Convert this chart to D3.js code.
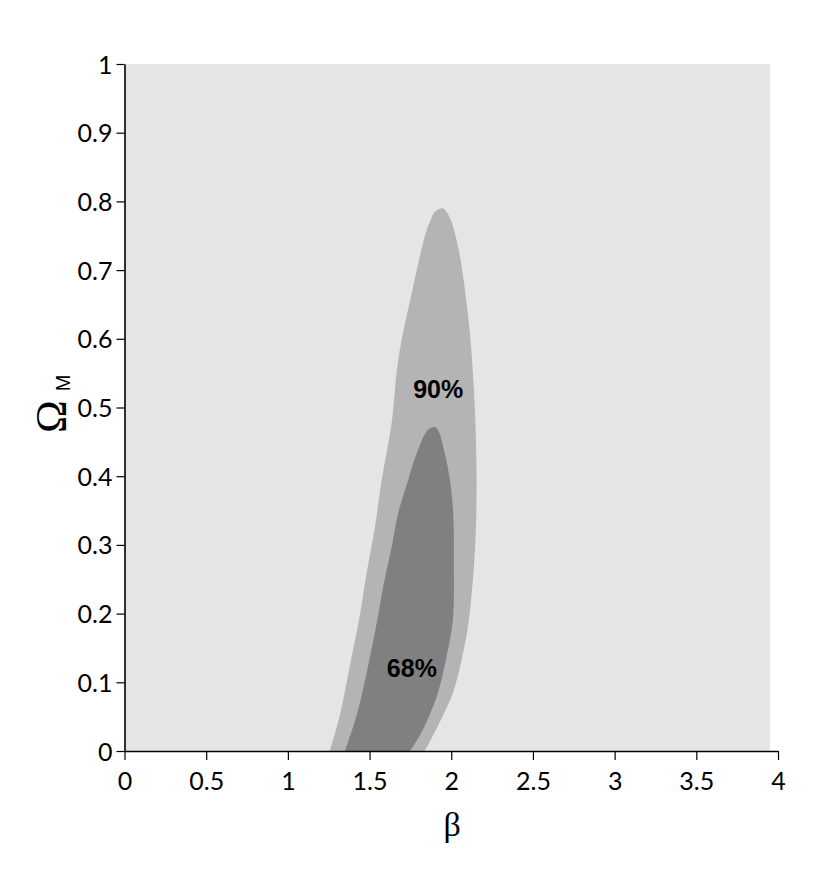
<!DOCTYPE html>
<html>
<head>
<meta charset="utf-8">
<script src="https://cdn.jsdelivr.net/npm/d3@7"></script>
<style>
  html, body { margin: 0; padding: 0; background: #ffffff; }
  svg { display: block; }
  .tick text { font-family: Lato, "DejaVu Sans", sans-serif; font-weight: 400; font-size: 25px; fill: #000; }
</style>
</head>
<body>
<svg id="chart" width="830" height="884"></svg>
<script>
// ---- data ----
const xTickValues = [0, 0.5, 1, 1.5, 2, 2.5, 3, 3.5, 4];
const xTickLabels = ["0", "0.5", "1", "1.5", "2", "2.5", "3", "3.5", "4"];
const yTickValues = [0, 0.1, 0.2, 0.3, 0.4, 0.5, 0.6, 0.7, 0.8, 0.9, 1];
const yTickLabels = ["0", "0.1", "0.2", "0.3", "0.4", "0.5", "0.6", "0.7", "0.8", "0.9", "1"];

// extent of the computed likelihood grid (shaded background)
const gridBeta = [0, 3.95];
const gridOmega = [0, 1];

// 90% confidence contour (beta, Omega_M), from bottom-left over the top to bottom-right
const c90Beta  = [1.257, 1.318, 1.380, 1.441, 1.482, 1.533, 1.574, 1.635, 1.665, 1.696, 1.767, 1.808, 1.849, 1.869, 1.900, 1.947,
                  1.971, 2.002, 2.042, 2.073, 2.094, 2.118, 2.144, 2.155, 2.146, 2.108, 2.070, 2.012, 1.950, 1.889, 1.838];
const c90Omega = [0.000, 0.052, 0.125, 0.198, 0.259, 0.326, 0.394, 0.477, 0.550, 0.598, 0.676, 0.720, 0.758, 0.770, 0.785, 0.790,
                  0.785, 0.770, 0.734, 0.690, 0.652, 0.598, 0.501, 0.394, 0.297, 0.191, 0.140, 0.086, 0.052, 0.023, 0.000];

// 68% confidence contour (beta, Omega_M)
const c68Beta  = [1.349, 1.421, 1.492, 1.553, 1.583, 1.635, 1.675, 1.736, 1.788, 1.859, 1.900,
                  1.920, 1.961, 1.992, 2.012, 2.016, 2.010, 1.981, 1.920, 1.859, 1.808, 1.747];
const c68Omega = [0.000, 0.052, 0.125, 0.198, 0.239, 0.297, 0.346, 0.394, 0.433, 0.468, 0.472,
                  0.467, 0.433, 0.394, 0.346, 0.273, 0.191, 0.149, 0.086, 0.048, 0.023, 0.000];

const labels = [
  { text: "90%", beta: 1.92, omega: 0.514 },
  { text: "68%", beta: 1.759, omega: 0.108 }
];

// ---- drawing ----
const svg = d3.select("#chart");
const x = d3.scaleLinear().domain([0, 4]).range([124.5, 778]);
const y = d3.scaleLinear().domain([0, 1]).range([751, 64]);

// background grid region
svg.append("rect")
  .attr("x", x(gridBeta[0])).attr("y", y(gridOmega[1]))
  .attr("width", x(gridBeta[1]) - x(gridBeta[0]))
  .attr("height", y(gridOmega[0]) - y(gridOmega[1]))
  .attr("fill", "#e5e5e5");

const line = d3.line().x(d => x(d[0])).y(d => y(d[1])).curve(d3.curveCatmullRom.alpha(0.5));
const pts90 = c90Beta.map((b, i) => [b, c90Omega[i]]);
const pts68 = c68Beta.map((b, i) => [b, c68Omega[i]]);

svg.append("path").attr("d", line(pts90) + "Z").attr("fill", "#b4b4b4");
svg.append("path").attr("d", line(pts68) + "Z").attr("fill", "#808080");

svg.selectAll("text.clabel").data(labels).enter().append("text")
  .attr("class", "clabel")
  .attr("x", d => x(d.beta)).attr("y", d => y(d.omega))
  .attr("text-anchor", "middle")
  .attr("font-family", "Liberation Sans, Arial, sans-serif")
  .attr("font-weight", "bold")
  .attr("font-size", 25)
  .text(d => d.text);

// axes
const xAxis = d3.axisBottom(x).tickValues(xTickValues)
  .tickFormat((d, i) => xTickLabels[i]).tickSize(9).tickSizeOuter(0).tickPadding(12);
const gx = svg.append("g").attr("transform", `translate(0,${y(0)})`).call(xAxis);

const yAxis = d3.axisLeft(y).tickValues(yTickValues)
  .tickFormat((d, i) => yTickLabels[i]).tickSize(8).tickSizeOuter(0).tickPadding(4);
const gy = svg.append("g").attr("transform", `translate(${x(0)},0)`).call(yAxis);

[gx, gy].forEach(g => {
  g.select(".domain").attr("stroke", "#000").attr("stroke-width", 1.6);
  g.selectAll(".tick line").attr("stroke", "#000").attr("stroke-width", 1.2);
});
gy.selectAll(".tick text").attr("dy", "0.36em");

// axis titles
svg.append("text")
  .attr("x", (x(0) + x(4)) / 2 + 1).attr("y", 836)
  .attr("text-anchor", "middle")
  .attr("font-family", "Liberation Serif, Times New Roman, serif")
  .attr("font-size", 34)
  .text("β");

const yt = svg.append("text")
  .attr("transform", "translate(66,433) rotate(-90)")
  .attr("text-anchor", "start")
  .attr("font-family", "Liberation Serif, Times New Roman, serif")
  .attr("font-size", 44);
yt.append("tspan").text("Ω");
yt.append("tspan").attr("dy", 4).attr("dx", 9).attr("font-size", 20)
  .attr("font-family", "Liberation Sans, Arial, sans-serif").text("M");
</script>
</body>
</html>
